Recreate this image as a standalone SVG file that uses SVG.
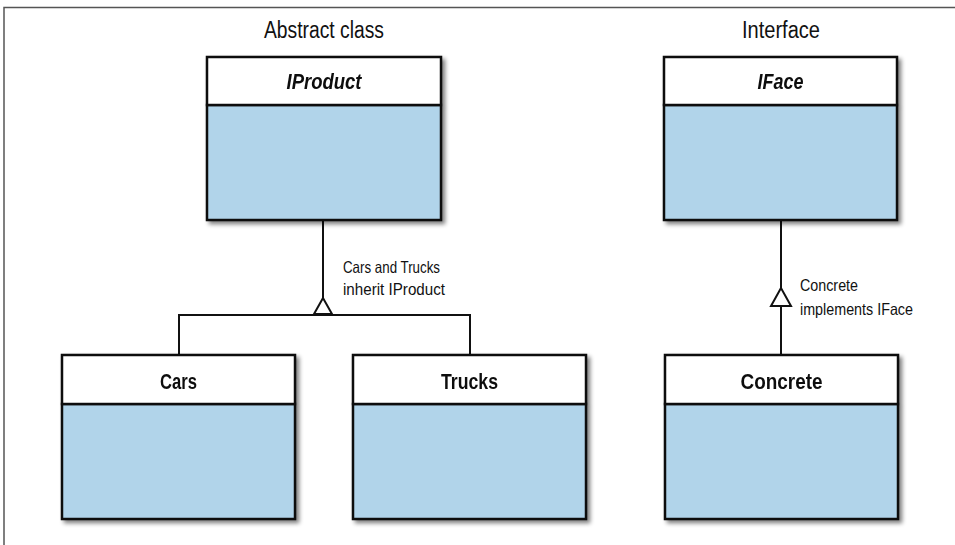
<svg xmlns="http://www.w3.org/2000/svg" width="955" height="545" viewBox="0 0 955 545">
<defs>
<filter id="sh" x="-10%" y="-10%" width="130%" height="130%">
<feGaussianBlur in="SourceAlpha" stdDeviation="2"/>
<feOffset dx="3" dy="3" result="b"/>
<feComponentTransfer><feFuncA type="linear" slope="0.5"/></feComponentTransfer>
<feMerge><feMergeNode/><feMergeNode in="SourceGraphic"/></feMerge>
</filter>
</defs>
<style>
.body{fill:#b1d4ea;stroke:#111;stroke-width:2.5}
.head{fill:#fff;stroke:#111;stroke-width:2.5}
.t{font-family:"Liberation Sans",Arial,sans-serif;fill:#111}
.title{font-size:23px}
.name{font-size:22px;font-weight:bold;text-anchor:middle}
.it{font-style:italic}
.lbl{font-size:16.5px}
.ln{fill:none;stroke:#111;stroke-width:2}
.arr{fill:#fff;stroke:#111;stroke-width:2;stroke-linejoin:miter}
</style>
<rect width="955" height="545" fill="#fff"/>
<path d="M4 545 V7.5 H955" fill="none" stroke="#555" stroke-width="1.5"/>

<text class="t title" x="324" y="38" text-anchor="middle" textLength="120" lengthAdjust="spacingAndGlyphs">Abstract class</text>
<text class="t title" x="781" y="38" text-anchor="middle" textLength="78" lengthAdjust="spacingAndGlyphs">Interface</text>

<g id="connectors">
<path class="ln" d="M323 220 V299"/>
<path class="ln" d="M179 354 V315 H470 V354"/>
<polygon class="arr" points="323,298 314,314 332,314"/>
<path class="ln" d="M781 220 V289"/>
<path class="ln" d="M781 306 V354"/>
<polygon class="arr" points="781,288 771,306 791,306"/>
<text class="t lbl" x="343" y="273" textLength="97" lengthAdjust="spacingAndGlyphs">Cars and Trucks</text>
<text class="t lbl" x="343" y="295" textLength="102" lengthAdjust="spacingAndGlyphs">inherit IProduct</text>
<text class="t lbl" x="800" y="291" textLength="58" lengthAdjust="spacingAndGlyphs">Concrete</text>
<text class="t lbl" x="800" y="315" textLength="113" lengthAdjust="spacingAndGlyphs">implements IFace</text>
</g>

<g id="IProduct" filter="url(#sh)">
<rect class="body" x="207" y="105" width="234" height="115"/>
<rect class="head" x="207" y="57" width="234" height="48"/>
<text class="t name it" x="324" y="89" textLength="75" lengthAdjust="spacingAndGlyphs">IProduct</text>
</g>
<g id="IFace" filter="url(#sh)">
<rect class="body" x="664" y="105" width="233" height="115"/>
<rect class="head" x="664" y="57" width="233" height="48"/>
<text class="t name it" x="780.5" y="89" textLength="46" lengthAdjust="spacingAndGlyphs">IFace</text>
</g>
<g id="Cars" filter="url(#sh)">
<rect class="body" x="62" y="404" width="233" height="115"/>
<rect class="head" x="62" y="355" width="233" height="49"/>
<text class="t name" x="178.5" y="389" textLength="37" lengthAdjust="spacingAndGlyphs">Cars</text>
</g>
<g id="Trucks" filter="url(#sh)">
<rect class="body" x="353" y="404" width="233" height="115"/>
<rect class="head" x="353" y="355" width="233" height="49"/>
<text class="t name" x="469.5" y="389" textLength="57" lengthAdjust="spacingAndGlyphs">Trucks</text>
</g>
<g id="Concrete" filter="url(#sh)">
<rect class="body" x="665" y="404" width="233" height="115"/>
<rect class="head" x="665" y="355" width="233" height="49"/>
<text class="t name" x="781.5" y="389" textLength="82" lengthAdjust="spacingAndGlyphs">Concrete</text>
</g>
</svg>
